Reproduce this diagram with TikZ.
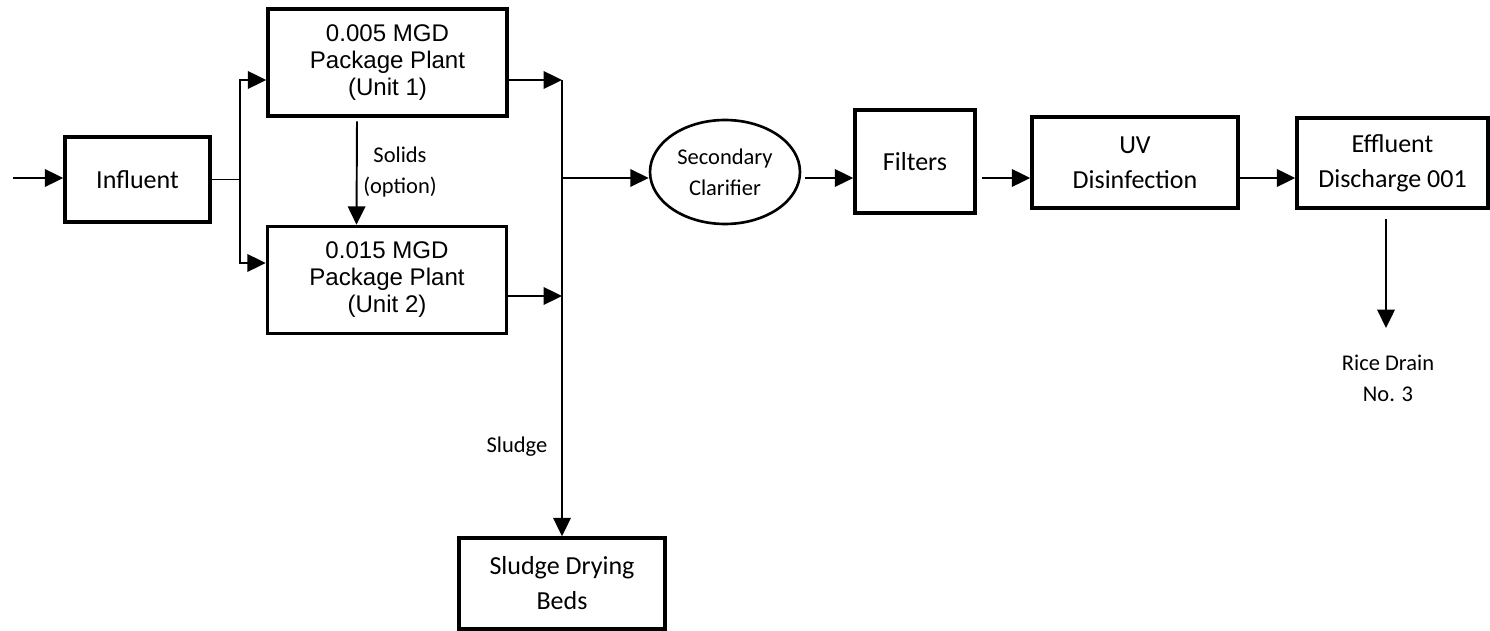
\documentclass[tikz,border=0pt]{standalone}
\usepackage{fontspec}
\setmainfont{Carlito}
\newfontfamily\arialfont{Liberation Sans}
\usetikzlibrary{arrows.meta,shapes.geometric}

\begin{document}
\begin{tikzpicture}[x=0.02cm,y=-0.02cm,>={Triangle[length=10.5pt,width=10pt]},line width=1.1pt,
    blk/.style={draw,rectangle,line width=2pt,align=center,inner sep=0pt,font=\fontsize{14.8}{19.9}\selectfont},
    plant/.style={blk,minimum width=4.78cm,minimum height=2.14cm,font=\arialfont\fontsize{13.7}{15.4}\selectfont},
    lbl/.style={align=center,inner sep=0pt,font=\fontsize{12.8}{17.6}\selectfont}]
        \useasboundingbox(0,0)rectangle(1490,631);
        \node[blk,minimum width=2.9cm,minimum height=1.7cm](infl)at(137.5,179.5){Influent};
        \node[plant](unit1)at(387.5,62.5){0.005 MGD\\Package Plant\\(Unit 1)};
        \node[plant](unit2)at(387,280){0.015 MGD\\Package Plant\\(Unit 2)};
        \node[draw,ellipse,line width=1.5pt,minimum width=3cm,minimum height=2.08cm,lbl](clar)at(725,172){Secondary\\Clarifier};
        \node[blk,minimum width=2.4cm,minimum height=2.06cm](filt)at(915,161.5){Filters};
        \node[blk,minimum width=4.12cm,minimum height=1.82cm](uv)at(1135,162.5){UV\\Disinfection};
        \node[blk,minimum width=3.82cm,minimum height=1.8cm](eff)at(1392.5,163){Effluent\\Discharge 001};
        \node[blk,minimum width=4.12cm,minimum height=1.82cm](beds)at(562,583.5){Sludge Drying\\Beds};
        \node[lbl](rice)at(1388,378){Rice Drain\\No. 3};
        \node[lbl](solids)at(400,172){Solids\\(option)};
        \node[lbl](sludge)at(517,447){Sludge};
        \coordinate(src)at(13,178);
        \coordinate(split)at(240,179.5);
        \coordinate(bus)at(562,80);
        \coordinate(merge)at(562,178);
        \coordinate(drain)at(1386,328);
        \coordinate(out2)at([yshift=-0.32cm]unit2.east);
        \draw[->](src)--(src-|infl.west);
        \draw(infl.east)--(split);
        \draw[->](split)|-([yshift=-0.35cm]unit1.west);
        \draw[->](split)|-([yshift=0.34cm]unit2.west);
        \draw[->]([yshift=-0.35cm]unit1.east)--(bus);
        \draw[->](out2)--(out2-|bus);
        \draw[->](bus)--(beds.north);
        \draw[->,shorten <=2pt]([xshift=-0.61cm]unit1.south)--([xshift=-0.61cm]unit2.north);
        \draw[->](merge)--(merge-|clar.west);
        \draw[->,shorten <=2pt](clar.east|-merge)--(filt.west|-merge);
        \draw[->,shorten <=3pt](filt.east|-merge)--(uv.west|-merge);
        \draw[->](uv.east|-merge)--(eff.west|-merge);
        \draw[->,shorten <=5pt](eff.south-|drain)--(drain);
    \end{tikzpicture}
\end{document}
